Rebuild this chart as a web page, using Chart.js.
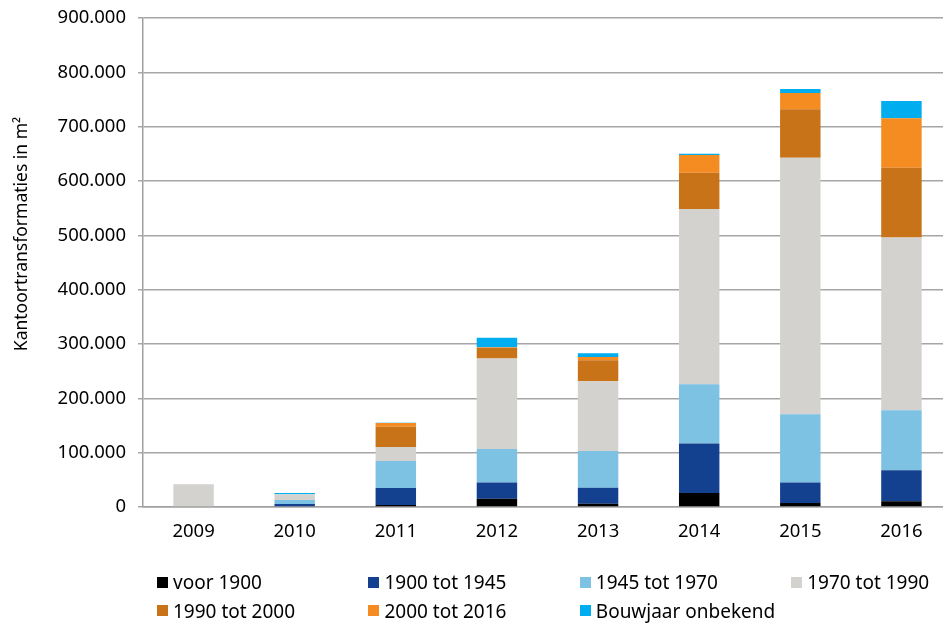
<!DOCTYPE html>
<html>
<head>
<meta charset="utf-8">
<script src="https://cdn.jsdelivr.net/npm/chart.js@4/dist/chart.umd.min.js"></script>
<style>
  html, body { margin: 0; padding: 0; background: #fff; }
  #wrap { position: relative; width: 943px; height: 623px; overflow: hidden; }
  #c { position: absolute; left: 0; top: 0; }
  #legend {
    position: absolute; left: 157px; top: 571px;
    display: grid; grid-template-columns: repeat(4, 211.4px); row-gap: 6.5px;
    font-family: "Noto Sans", sans-serif; font-size: 19px; color: #000;
  }
  #legend .item { display: flex; align-items: center; height: 22px; white-space: nowrap; }
  #legend .box { width: 11px; height: 11px; margin-right: 5px; flex: none; }
</style>
</head>
<body>
<div id="wrap">
  <canvas id="c" width="952" height="623" style="width:952px;height:623px"></canvas>
  <div id="legend"></div>
</div>
<script>
// Office-to-other-use transformations per year, split by construction period (m²)
const years = ['2009', '2010', '2011', '2012', '2013', '2014', '2015', '2016'];

const voor1900       = [0,     0,     3700,  15300,  6100,   25800,  7400,   10400];
const tot1945        = [0,     5500,  31300, 30000,  29400,  90900,  37500,  57100];
const tot1970        = [0,     7400,  49700, 61300,  67400,  109300, 125900, 110500];
const tot1990        = [42000, 10400, 25700, 166700, 128700, 322400, 472200, 318100];
const tot2000        = [0,     0,     37400, 19600,  38600,  66900,  89000,  128300];
const tot2016        = [0,     0,     6700,  1000,   6100,   32500,  30100,  90900];
const bouwjaarOnbek  = [0,     2500,  600,   17800,  6700,   2500,   7400,   31900];

const seriesLabels = ['voor 1900', '1900 tot 1945', '1945 tot 1970', '1970 tot 1990',
                      '1990 tot 2000', '2000 tot 2016', 'Bouwjaar onbekend'];
const seriesValues = [voor1900, tot1945, tot1970, tot1990, tot2000, tot2016, bouwjaarOnbek];
const seriesColors = ['#000000', '#13408f', '#7dc1e3', '#d3d2ce', '#c87318', '#f58c22', '#00adee'];

const yTicks = [0, 100000, 200000, 300000, 400000, 500000, 600000, 700000, 800000, 900000];
const yTitle = 'Kantoortransformaties in m²';

function fmt(v) {
  return String(Math.round(v)).replace(/\B(?=(\d{3})+(?!\d))/g, '.');
}

const font = { family: '"Noto Sans", sans-serif', size: 18.5 };

// Vertical axis title, drawn a little above the axis centre
const yTitlePlugin = {
  id: 'yTitle',
  afterDraw(chart) {
    const ctx = chart.ctx;
    ctx.save();
    ctx.translate(22, 234);
    ctx.rotate(-Math.PI / 2);
    ctx.font = '17.5px "Noto Sans", sans-serif';
    ctx.fillStyle = '#000';
    ctx.textAlign = 'center';
    ctx.textBaseline = 'middle';
    ctx.fillText(yTitle, 0, 0);
    ctx.restore();
  }
};

new Chart(document.getElementById('c'), {
  type: 'bar',
  data: {
    labels: years,
    datasets: seriesLabels.map((label, i) => ({
      label,
      data: seriesValues[i],
      backgroundColor: seriesColors[i],
      borderWidth: 0,
      categoryPercentage: 1,
      barPercentage: 0.4
    }))
  },
  options: {
    responsive: false,
    animation: false,
    layout: { padding: { top: 18, left: 0, right: 0, bottom: 0 } },
    plugins: { legend: { display: false }, tooltip: { enabled: false } },
    scales: {
      x: {
        stacked: true,
        grid: { display: false, drawTicks: false },
        border: { display: true, color: '#a0a0a0', width: 1.5 },
        ticks: { color: '#000', font, padding: 14 },
        afterFit: s => { s.height = 116; s.paddingLeft = 0; s.paddingRight = 0; }
      },
      y: {
        stacked: true,
        min: 0,
        max: 900000,
        afterBuildTicks: s => { s.ticks = yTicks.map(v => ({ value: v })); },
        grid: { color: '#a6a6a6', lineWidth: 1.5, drawTicks: true, tickLength: 5 },
        border: { display: true, color: '#a0a0a0', width: 1.5 },
        ticks: { color: '#000', font, padding: 12, callback: v => fmt(v) },
        afterFit: s => { s.width = 143; s.paddingTop = 0; s.paddingBottom = 0; }
      }
    }
  },
  plugins: [yTitlePlugin]
});

// Legend in four columns below the plot
const legend = document.getElementById('legend');
seriesLabels.forEach((label, i) => {
  const item = document.createElement('div');
  item.className = 'item';
  const box = document.createElement('span');
  box.className = 'box';
  box.style.background = seriesColors[i];
  const txt = document.createElement('span');
  txt.textContent = label;
  item.appendChild(box);
  item.appendChild(txt);
  legend.appendChild(item);
});
</script>
</body>
</html>
